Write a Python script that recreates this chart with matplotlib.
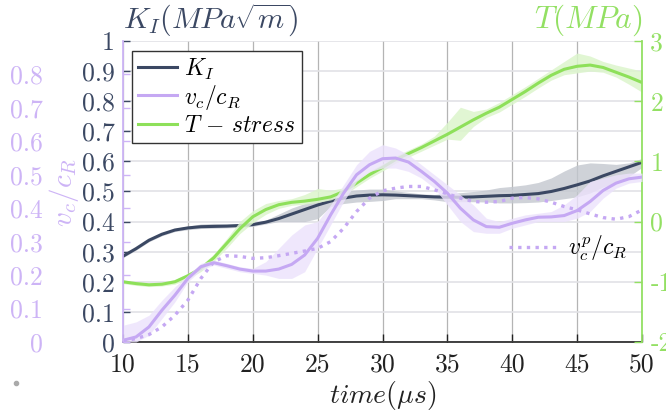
import matplotlib
matplotlib.use("Agg")
import matplotlib.pyplot as plt
from matplotlib.lines import Line2D
import numpy as np

plt.rcParams['mathtext.fontset'] = 'cm'

# ---------------- data ----------------
t = list(range(10, 51))

K_I = [0.285, 0.31, 0.338, 0.358, 0.372, 0.379, 0.383, 0.384, 0.385, 0.387,
       0.39, 0.398, 0.41, 0.425, 0.44, 0.455, 0.468, 0.478, 0.485, 0.488,
       0.489, 0.488, 0.486, 0.484, 0.482, 0.481, 0.481, 0.482, 0.484, 0.486,
       0.487, 0.49, 0.493, 0.5, 0.51, 0.522, 0.535, 0.552, 0.567, 0.582, 0.597]
K_lo = [0.28, 0.305, 0.333, 0.353, 0.367, 0.373, 0.377, 0.378, 0.379, 0.381,
        0.384, 0.392, 0.40, 0.40, 0.40, 0.41, 0.45, 0.46, 0.465, 0.467,
        0.47, 0.476, 0.476, 0.476, 0.472, 0.466, 0.466, 0.466, 0.465, 0.462,
        0.462, 0.463, 0.465, 0.47, 0.476, 0.482, 0.495, 0.515, 0.53, 0.55, 0.58]
K_hi = [0.29, 0.315, 0.343, 0.363, 0.377, 0.385, 0.392, 0.394, 0.392, 0.392,
        0.396, 0.405, 0.425, 0.445, 0.46, 0.475, 0.49, 0.50, 0.505, 0.508,
        0.508, 0.502, 0.497, 0.492, 0.49, 0.494, 0.496, 0.50, 0.505, 0.513,
        0.517, 0.522, 0.53, 0.545, 0.568, 0.588, 0.595, 0.593, 0.59, 0.595, 0.61]

T_stress = [-1.0, -1.03, -1.05, -1.04, -1.0, -0.9, -0.78, -0.6, -0.36, -0.12,
            0.08, 0.2, 0.28, 0.32, 0.34, 0.37, 0.41, 0.5, 0.64, 0.78,
            0.9, 1.03, 1.13, 1.23, 1.34, 1.45, 1.57, 1.69, 1.8, 1.9,
            2.03, 2.16, 2.3, 2.43, 2.53, 2.58, 2.6, 2.56, 2.48, 2.4, 2.31]
T_lo = [-1.03, -1.06, -1.08, -1.07, -1.04, -0.95, -0.83, -0.66, -0.44, -0.2,
        -0.02, 0.12, 0.22, 0.27, 0.29, 0.32, 0.36, 0.44, 0.58, 0.72,
        0.84, 0.97, 1.07, 1.17, 1.27, 1.37, 1.35, 1.58, 1.73, 1.82,
        1.95, 2.08, 2.22, 2.35, 2.44, 2.47, 2.5, 2.48, 2.4, 2.28, 2.15]
T_hi = [-0.97, -1.0, -1.02, -1.01, -0.96, -0.86, -0.73, -0.54, -0.28, 0.0,
        0.18, 0.3, 0.35, 0.38, 0.45, 0.55, 0.52, 0.56, 0.7, 0.84,
        0.96, 1.09, 1.19, 1.29, 1.42, 1.65, 1.9, 1.83, 1.87, 1.98,
        2.11, 2.24, 2.38, 2.52, 2.66, 2.8, 2.75, 2.66, 2.6, 2.55, 2.5]

vc = [0.005, 0.015, 0.045, 0.095, 0.14, 0.19, 0.225, 0.237, 0.228, 0.218,
      0.212, 0.212, 0.218, 0.232, 0.26, 0.31, 0.38, 0.445, 0.5, 0.53,
      0.548, 0.55, 0.538, 0.51, 0.48, 0.445, 0.4, 0.365, 0.345, 0.343,
      0.355, 0.365, 0.373, 0.374, 0.378, 0.393, 0.42, 0.453, 0.475, 0.488, 0.493]
vc_lo = [0.0, 0.0, 0.02, 0.07, 0.12, 0.18, 0.215, 0.23, 0.22, 0.21,
         0.205, 0.2, 0.19, 0.19, 0.21, 0.28, 0.35, 0.42, 0.48, 0.51,
         0.52, 0.52, 0.51, 0.49, 0.46, 0.41, 0.36, 0.33, 0.325, 0.325,
         0.34, 0.35, 0.36, 0.36, 0.36, 0.37, 0.39, 0.43, 0.46, 0.475, 0.48]
vc_hi = [0.05, 0.06, 0.08, 0.125, 0.165, 0.2, 0.235, 0.245, 0.235, 0.225,
         0.22, 0.24, 0.28, 0.32, 0.35, 0.36, 0.41, 0.47, 0.53, 0.57,
         0.59, 0.58, 0.56, 0.53, 0.5, 0.47, 0.44, 0.41, 0.37, 0.36,
         0.37, 0.38, 0.385, 0.39, 0.41, 0.44, 0.48, 0.49, 0.5, 0.505, 0.505]

vcp = [0.003, 0.01, 0.022, 0.045, 0.08, 0.125, 0.19, 0.24, 0.258, 0.256,
       0.25, 0.252, 0.258, 0.265, 0.272, 0.28, 0.3, 0.34, 0.39, 0.43,
       0.452, 0.46, 0.465, 0.465, 0.455, 0.443, 0.43, 0.42, 0.418, 0.42,
       0.43, 0.432, 0.428, 0.418, 0.405, 0.395, 0.383, 0.372, 0.367, 0.375, 0.395]

x_ticks = [10, 15, 20, 25, 30, 35, 40, 45, 50]
k_ticks = [0, 0.1, 0.2, 0.3, 0.4, 0.5, 0.6, 0.7, 0.8, 0.9, 1]
k_labels = ['0', '0.1', '0.2', '0.3', '0.4', '0.5', '0.6', '0.7', '0.8', '0.9', '1']
v_ticks = [0, 0.1, 0.2, 0.3, 0.4, 0.5, 0.6, 0.7, 0.8]
v_labels = ['0', '0.1', '0.2', '0.3', '0.4', '0.5', '0.6', '0.7', '0.8']
t_ticks = [-2, -1, 0, 1, 2, 3]
t_labels = ['-2', '-1', '0', '1', '2', '3']

# ---------------- style ----------------
C_K = '#3b4863'
C_KB = '#c3c7cf'
C_V = '#c5a8f3'
C_VB = '#ece2fc'
C_VT = '#cdb4f6'
C_T = '#8ee05a'
C_TB = '#dcf5cc'
C_TT = '#93e063'
TF = 'cmr10'
FS = 18.5

fig = plt.figure(figsize=(6.66, 4.17), dpi=100)
ax = fig.add_axes([0.1847, 0.1799, 0.7793, 0.7218])
ax2 = ax.twinx()
ax3 = ax.twinx()

# K_I axis
ax.fill_between(t, K_lo, K_hi, color=C_KB, alpha=0.8, lw=0)
lK, = ax.plot(t, K_I, color=C_K, lw=2.2, label=r'$K_I$')
ax.set_xlim(10, 50)
ax.set_ylim(0, 1)
ax.set_xticks(x_ticks)
ax.set_xticklabels([str(v) for v in x_ticks], fontfamily=TF, fontsize=FS, color='#222222')
ax.set_yticks(k_ticks)
ax.set_yticklabels(k_labels, fontfamily=TF, fontsize=FS, color=C_K)
ax.tick_params(axis='x', direction='in', length=6, width=1, color='#222222', pad=8)
ax.tick_params(axis='y', direction='in', length=5, width=1, color=C_K, pad=6)
ax.grid(axis='x', color='#b4b4b4', lw=0.9)
ax.grid(axis='y', color='#e2e2e6', lw=1.2)
ax.set_axisbelow(True)
for s in ['top', 'right', 'left']:
    ax.spines[s].set_visible(False)
ax.spines['bottom'].set_color('#222222')
ax.spines['bottom'].set_linewidth(1.2)

# T axis (right)
ax2.fill_between(t, T_lo, T_hi, color=C_TB, alpha=0.85, lw=0)
lT, = ax2.plot(t, T_stress, color=C_T, lw=2.2, label=r'$T\,-\,stress$')
ax2.set_ylim(-2, 3)
ax2.set_yticks(t_ticks)
ax2.set_yticklabels(t_labels, fontfamily=TF, fontsize=FS, color=C_TT)
ax2.tick_params(axis='y', direction='in', length=6, width=1, color=C_TT, pad=6)
for s in ['top', 'left', 'bottom']:
    ax2.spines[s].set_visible(False)
ax2.spines['right'].set_color(C_TT)
ax2.spines['right'].set_linewidth(1.3)

# v_c/c_R axis (far left)
ax3.fill_between(t, vc_lo, vc_hi, color=C_VB, alpha=0.8, lw=0)
lV, = ax3.plot(t, vc, color=C_V, lw=2.2, label=r'$v_c/c_R$')
lVp, = ax3.plot(t, vcp, color=C_V, lw=2.4, ls=(0, (1, 1.6)), label=r'$v_c^p/c_R$')
ax3.set_ylim(0, 0.9)
ax3.yaxis.set_ticks_position('left')
ax3.yaxis.set_label_position('left')
ax3.set_yticks(v_ticks)
ax3.set_yticklabels(v_labels, fontfamily=TF, fontsize=FS, color=C_VT)
ax3.tick_params(axis='y', direction='in', length=5, width=1, color=C_VT, pad=58)
for s in ['top', 'right', 'bottom']:
    ax3.spines[s].set_visible(False)
ax3.spines['left'].set_visible(True)
ax3.spines['left'].set_color(C_VT)
ax3.spines['left'].set_linewidth(1.3)

# labels
fig.text(123 / 666, 1 - 2 / 417, r'$K_I(MPa\sqrt{m})$', color=C_K, fontsize=21.5,
         ha='left', va='top')
fig.text(642 / 666, 1 - 2 / 417, r'$T(MPa)$', color=C_TT, fontsize=22.5,
         ha='right', va='top')
fig.text(383 / 666, 1 - 395 / 417, r'$time(\mu s)$', color='#222222', fontsize=20,
         ha='center', va='center')
fig.text(64 / 666, 1 - 192 / 417, r'$v_c/c_R$', color=C_VT, fontsize=21,
         ha='center', va='center', rotation=90)

# legends
leg = ax3.legend(handles=[lK, lV, lT], loc='upper left', bbox_to_anchor=(0.018, 0.968),
                 fontsize=17, frameon=True, fancybox=False, edgecolor='#333333',
                 framealpha=1, handlelength=1.65, handletextpad=0.3, borderpad=0.25,
                 labelspacing=0.05, borderaxespad=0)
leg.get_frame().set_linewidth(1.0)
ax3.add_artist(leg)
leg2 = ax3.legend(handles=[lVp], loc='center right', bbox_to_anchor=(0.99, 0.31),
                  fontsize=17, frameon=False, handlelength=2.2, handletextpad=0.3,
                  borderaxespad=0)

# small dot at lower left
fig.add_artist(Line2D([16 / 666], [1 - 383 / 417], transform=fig.transFigure,
                      marker='o', markersize=3, color='#aaaaaa', ls='none'))

fig.savefig('out.png', dpi=100)
